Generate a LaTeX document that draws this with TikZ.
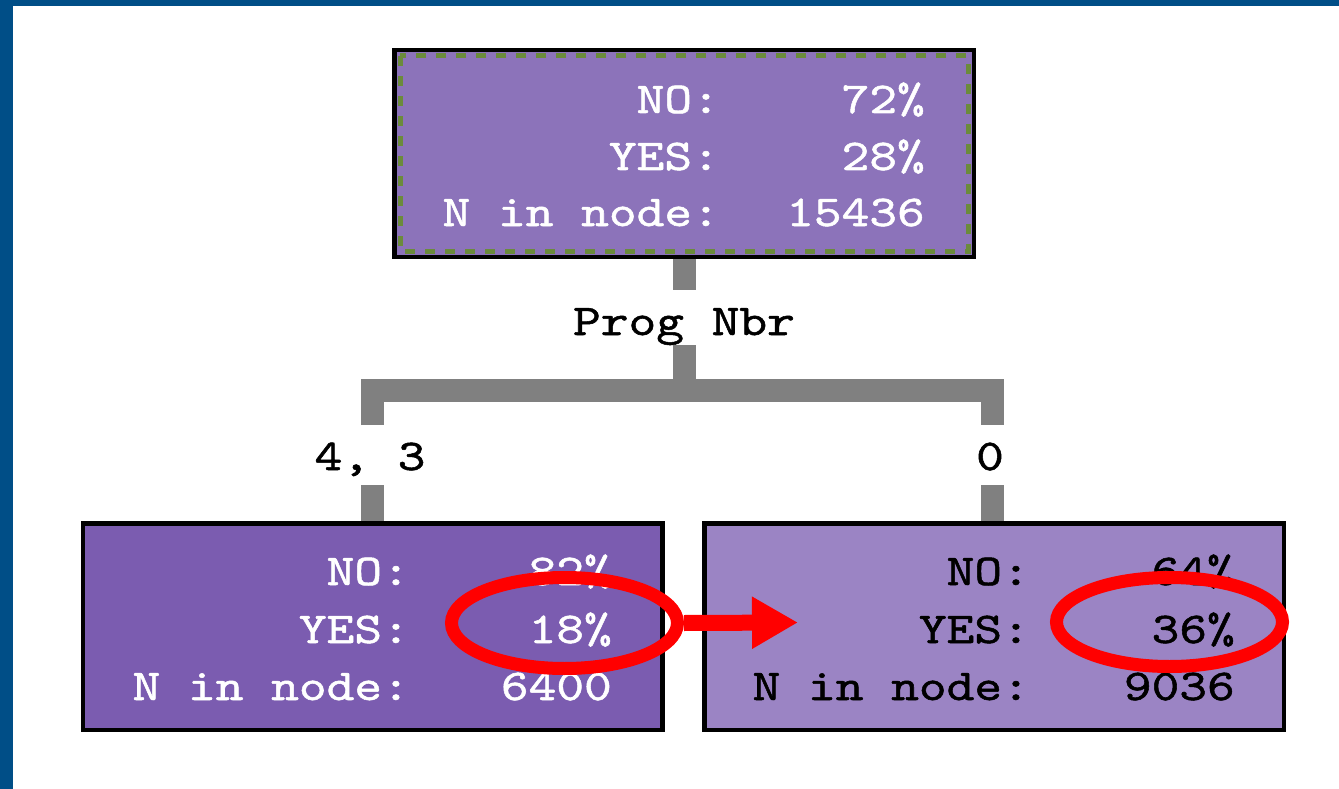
\documentclass[tikz,border=0pt]{standalone}
\usepackage{fontspec}
\newfontfamily\pixfont[FakeStretch=1.2,FakeBold=1.2]{lmmono10-regular.otf}
\usetikzlibrary{arrows.meta,shapes.geometric}
\definecolor{frameblue}{RGB}{0,78,135}
\definecolor{topfill}{RGB}{140,115,186}
\definecolor{leftfill}{RGB}{123,92,176}
\definecolor{rightfill}{RGB}{155,132,196}
\definecolor{dashgreen}{RGB}{107,139,59}
\definecolor{conngray}{RGB}{128,128,128}
\tikzset{
  treebox/.style={draw=black, line width=3pt, minimum width=578pt, minimum height=205pt, inner sep=0pt},
  txt/.style={font=\pixfont\fontsize{44}{44}\selectfont, inner sep=0pt, anchor=base east},
  lbl/.style={font=\pixfont\fontsize{44}{44}\selectfont, inner sep=0pt, text=black},
  conn/.style={draw=conngray, line width=23pt, line cap=butt, line join=miter},
  hilite/.style={ellipse, draw=red, line width=13pt, inner sep=0pt},
}
\begin{document}
\begin{tikzpicture}[x=1pt,y=-1pt]
\useasboundingbox (0,0) rectangle (1339,789);
\fill[white] (0,0) rectangle (1339,789);
\fill[frameblue] (0,0) rectangle (1339,6);
\fill[frameblue] (0,0) rectangle (13,789);

% boxes
\node[treebox, fill=topfill] (top) at (684,153.5) {};
\draw[dashgreen, line width=5pt, dash pattern=on 10pt off 10pt] (400,56) rectangle (968,251);
\node[treebox, fill=leftfill] (left) at (372.5,626.5) {};
\node[treebox, fill=rightfill] (right) at (994,626.5) {};

% connector coordinates
\coordinate (c1) at (684,290);
\node[lbl, anchor=base] (prog) at (684,335) {Prog Nbr};
\coordinate (c2) at (684,345);
\coordinate (jc) at (684,390);
\coordinate (jl) at (372,390);
\coordinate (jr) at (992,390);
\coordinate (l1) at (372,425);
\coordinate (l2) at (372,485);
\coordinate (r1) at (992,425);
\coordinate (r2) at (992,485);
\node[lbl, anchor=base] (lab43) at (370,470) {4, 3};
\node[lbl, anchor=base] (lab0) at (990,470) {0};

\draw[conn] (top.south) -- (c1);
\draw[conn] (c2) -- (jc);
\draw[conn] (l1) -- (jl) -- (jr) -- (r1);
\draw[conn] (l2) -- (l2 |- left.north);
\draw[conn] (r2) -- (r2 |- right.north);
% box borders on top of connector ends
\draw[black, line width=3pt] (top.south west) rectangle (top.north east);
\draw[black, line width=3pt] (left.south west) rectangle (left.north east);
\draw[black, line width=3pt] (right.south west) rectangle (right.north east);

% top box text
\node[txt, text=white] (t1) at (720,113) {NO:};
\node[txt, text=white] (t2) at (720,170) {YES:};
\node[txt, text=white] (t3) at (720,226) {N in node:};
\node[txt, text=white] (v1) at (925,113) {72\%};
\node[txt, text=white] (v2) at (925,170) {28\%};
\node[txt, text=white] (v3) at (925,226) {15436};

% left box text
\node[txt, text=white] (lt1) at (410,585) {NO:};
\node[txt, text=white] (lt2) at (410,643) {YES:};
\node[txt, text=white] (lt3) at (410,700) {N in node:};
\node[txt, text=white] (lv1) at (612,585) {82\%};
\node[txt, text=white] (lv2) at (612,643) {18\%};
\node[txt, text=white] (lv3) at (612,700) {6400};

% right box text
\node[txt, text=black] (rt1) at (1030,585) {NO:};
\node[txt, text=black] (rt2) at (1030,643) {YES:};
\node[txt, text=black] (rt3) at (1030,700) {N in node:};
\node[txt, text=black] (rv1) at (1235,585) {64\%};
\node[txt, text=black] (rv2) at (1235,643) {36\%};
\node[txt, text=black] (rv3) at (1235,700) {9036};

% highlights
\node[hilite, minimum width=226pt, minimum height=91pt] (lell) at (564.5,623) {};
\node[hilite, minimum width=226pt, minimum height=89pt] (rell) at (1169.5,622) {};
\coordinate (tip) at (798,622.5);
\draw[red, line width=16pt, -{Triangle[length=46pt,width=49pt]}] (lell.east) -- (tip);
\end{tikzpicture}
\end{document}
